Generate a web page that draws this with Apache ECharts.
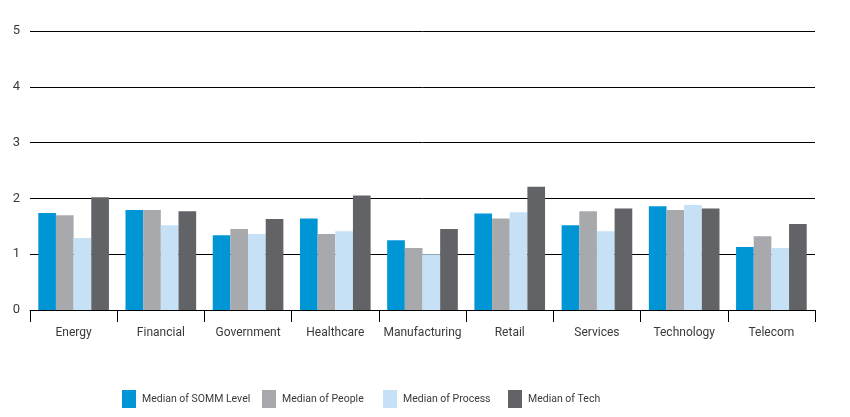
<!DOCTYPE html>
<html><head><meta charset="utf-8">
<script src="https://cdn.jsdelivr.net/npm/echarts@6/dist/echarts.min.js"></script>
<style>html,body{margin:0;padding:0;background:#fff}#c{width:850px;height:417px}</style>
</head><body><div id="c"></div>
<script>
const categories = ["Energy","Financial","Government","Healthcare","Manufacturing","Retail","Services","Technology","Telecom"];
const seriesNames = ["Median of SOMM Level","Median of People","Median of Process","Median of Tech"];
const somm    = [1.74,1.79,1.34,1.64,1.25,1.73,1.52,1.86,1.13];
const people  = [1.70,1.79,1.45,1.36,1.11,1.64,1.77,1.79,1.32];
const process = [1.29,1.52,1.36,1.41,1.00,1.75,1.41,1.88,1.11];
const tech    = [2.02,1.77,1.63,2.05,1.45,2.21,1.82,1.82,1.54];
const yTicks = [0,1,2,3,4,5];

const colors = ["#0096d6","#a7a9ac","#c6e0f5","#626366"];
const values = [somm, people, process, tech];
const legendLeft = [117, 257, 378, 503];
const txt = "#3a3a3a";

const chart = echarts.init(document.getElementById('c'), null, {renderer:'canvas'});
chart.setOption({
  animation:false,
  color: colors,
  grid:{left:30,right:35,top:31,bottom:107,containLabel:false},
  legend: seriesNames.map((n,i)=>({
    data:[n], left:legendLeft[i], top:385, itemWidth:14, itemHeight:18, itemGap:0,
    icon:'rect', textStyle:{color:txt,fontSize:10.5,fontFamily:"Roboto,sans-serif",padding:[0,0,0,1]}
  })),
  xAxis:{type:'category',data:categories,
    axisLine:{lineStyle:{color:'#000',width:1}},
    axisTick:{show:true,interval:0,length:12,lineStyle:{color:'#000'}},
    axisLabel:{interval:0,color:txt,fontSize:12,fontFamily:'Roboto',margin:17}
  },
  yAxis:{type:'value',min:yTicks[0],max:yTicks[yTicks.length-1],interval:1,
    axisLine:{show:false},axisTick:{show:false},
    splitLine:{lineStyle:{color:'#000',width:1}},
    axisLabel:{color:txt,fontSize:13,fontFamily:'Roboto',margin:10}
  },
  series: seriesNames.map((n,i)=>({
    name:n,type:'bar',data:values[i],barGap:'0%',barCategoryGap:'19%',
    itemStyle:{color:colors[i]}
  }))
});
</script></body></html>
